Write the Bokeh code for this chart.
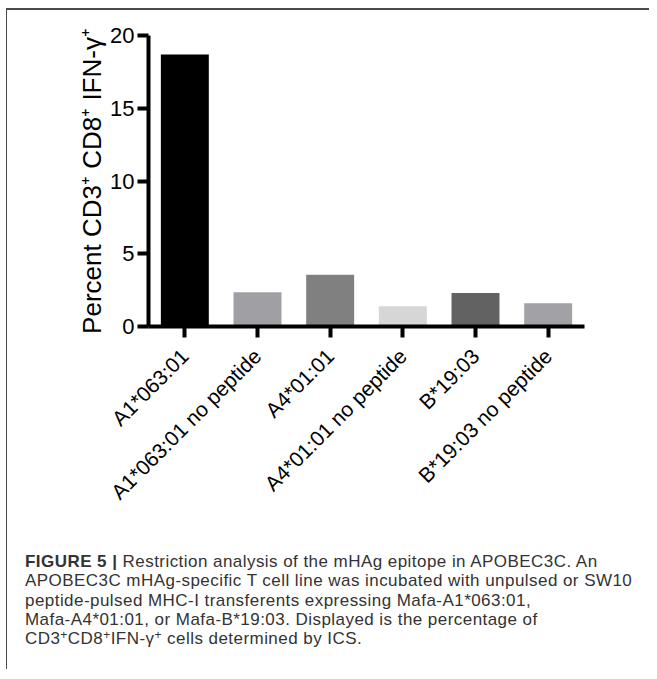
from bokeh.plotting import figure
from bokeh.models import FactorRange, FixedTicker, Div, ColumnDataSource
from bokeh.layouts import column
from bokeh.embed import file_html
from bokeh.resources import INLINE
import math

categories = ["A1*063:01", "A1*063:01 no peptide", "A4*01:01",
              "A4*01:01 no peptide", "B*19:03", "B*19:03 no peptide"]
values = [18.7, 2.35, 3.55, 1.4, 2.3, 1.6]
colors = ["#000000", "#a09fa4", "#808080", "#d6d6d6", "#626262", "#a2a1a6"]
y_ticks = [0, 5, 10, 15, 20]
y_label = "Percent CD3\u207a CD8\u207a IFN-\u03b3\u207a"

FONT = "Liberation Sans"

src = ColumnDataSource(dict(x=categories, top=values, color=colors))

p = figure(x_range=FactorRange(factors=categories, range_padding=0),
           y_range=(0, 20), width=635, height=537,
           output_backend="svg", toolbar_location=None,
           min_border_left=141, min_border_right=58,
           min_border_top=25, min_border_bottom=221)
p.vbar(x="x", top="top", width=0.66, fill_color="color", line_color=None, source=src)

p.grid.visible = False
p.outline_line_color = None
p.background_fill_color = "white"
p.border_fill_color = "white"

for ax in (p.xaxis[0], p.yaxis[0]):
    ax.axis_line_width = 4
    ax.axis_line_color = "black"
    ax.major_tick_line_width = 4
    ax.major_tick_line_color = "black"
    ax.major_tick_in = 0
    ax.major_tick_out = 11
    ax.minor_tick_line_color = None
    ax.major_label_text_font = FONT
    ax.major_label_text_color = "black"

p.yaxis[0].ticker = FixedTicker(ticks=y_ticks)
p.yaxis[0].major_label_text_font_size = "22px"
p.yaxis[0].major_label_standoff = 3
p.yaxis[0].axis_label = y_label
p.yaxis[0].axis_label_text_font = FONT
p.yaxis[0].axis_label_text_font_size = "26px"
p.yaxis[0].axis_label_text_font_style = "normal"
p.yaxis[0].axis_label_text_color = "black"
p.yaxis[0].axis_label_standoff = 0

p.xaxis[0].major_label_orientation = math.pi / 4
p.xaxis[0].major_label_text_font_size = "21px"
p.xaxis[0].major_label_standoff = 15

sup = "<sup style='font-size:12px; line-height:0; vertical-align:5px'>+</sup>"
caption = ("<b>FIGURE 5 |</b> Restriction analysis of the mHAg epitope in APOBEC3C. An<br>"
           "APOBEC3C mHAg-specific T cell line was incubated with unpulsed or SW10<br>"
           "peptide-pulsed MHC-I transferents expressing Mafa-A1*063:01,<br>"
           "Mafa-A4*01:01, or Mafa-B*19:03. Displayed is the percentage of<br>"
           f"CD3{sup}CD8{sup}IFN-\u03b3{sup} cells determined by ICS.")

div = Div(text=caption, width=630, height=112,
          styles={"font-family": FONT, "font-size": "17px", "line-height": "19.3px",
                  "letter-spacing": "0.45px",
                  "color": "#333333", "padding-left": "13px", "white-space": "nowrap",
                  "box-sizing": "border-box"})

top_line = Div(text="", width=642, height=2, margin=(0, 0, 0, 0),
               styles={"background-color": "#4a4a4a"})

layout = column(top_line, p, div,
                styles={"border-left": "1px solid #4a4a4a",
                        "margin-top": "8px", "margin-left": "6px"})

open("out.html", "w").write(file_html(layout, INLINE))
